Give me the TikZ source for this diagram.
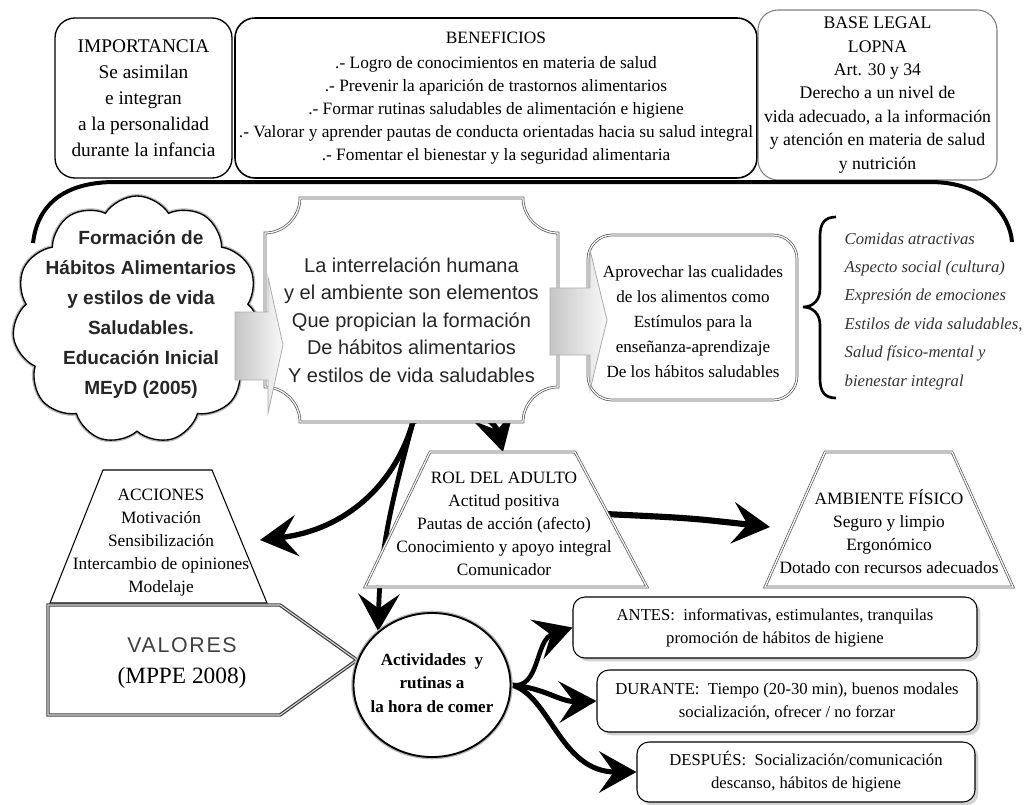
\documentclass[tikz,border=0pt]{standalone}
\usepackage{fontspec}
\setmainfont{Liberation Serif}
\setsansfont{Liberation Sans}
\newfontfamily\valfont[LetterSpace=8]{Liberation Sans}
\usetikzlibrary{shapes.symbols,shapes.geometric,arrows.meta,shadows}
\pgfdeclarelayer{back}
\pgfsetlayers{back,main}
\tikzset{
  topbox/.style={draw, rounded corners=15pt, align=center, inner sep=0pt},
  dblgray/.style={draw=gray!70!black, double=white, double distance=0.9pt, line width=0.55pt},
  blockarrow/.style={draw=gray!65, line width=0.6pt, left color=gray!45, right color=gray!5},
  traptext/.style={align=center, font=\fontsize{13}{17.25}\selectfont, inner sep=0pt},
  bigarrow/.style={line width=4pt, -{Stealth[length=28pt, width=31pt, inset=11pt]}},
  phase/.style={draw, rounded corners=9pt, line width=0.8pt, fill=white,
    drop shadow={shadow xshift=2.5pt, shadow yshift=-2.5pt, fill=gray!70},
    align=center, font=\fontsize{12.5}{17.25}\selectfont, inner sep=0pt}
}
\begin{document}
\begin{tikzpicture}[x=0.75pt,y=-0.75pt]
\useasboundingbox (0,0) rectangle (1028,804);
\begin{pgfonlayer}{back}
\fill[white] (0,0) rectangle (1028,804);
\end{pgfonlayer}

% top boxes
\node[topbox, line width=1pt, minimum width=132.75pt, minimum height=120pt,
  font=\fontsize{14.5}{19.5}\selectfont] (imp) at (143.5,98)
  {IMPORTANCIA\\Se asimilan\\e integran\\a la personalidad\\durante la infancia};
\node[topbox, line width=1.2pt, minimum width=391.5pt, minimum height=120pt,
  font=\fontsize{13}{17.25}\selectfont] (ben) at (496,98)
  {BENEFICIOS\\[2pt]
   .- Logro de conocimientos en materia de salud\\
   .- Prevenir la aparición de trastornos alimentarios\\
   .- Formar rutinas saludables de alimentación e higiene\\
   .- Valorar y aprender pautas de conducta orientadas hacia su salud integral\\
   .- Fomentar el bienestar y la seguridad alimentaria};
\node[topbox, draw=gray, line width=0.8pt, minimum width=179.25pt, minimum height=127.5pt,
  font=\fontsize{13.3}{17.6}\selectfont] (base) at (877.5,95)
  {BASE LEGAL\\LOPNA\\Art. 30 y 34\\Derecho a un nivel de\\vida adecuado, a la información\\y atención en materia de salud\\y nutrición};

% big arc
\draw[line width=3pt] (33,243) .. controls (38,200) and (70,182) .. (115,182) -- (930,182)
  .. controls (985,182) and (1010,215) .. (1012,242);

% cloud
\node[cloud, cloud puffs=11, cloud puff arc=115, cloud ignores aspect, draw, line width=1pt,
  fill=white, minimum width=187pt, minimum height=186pt,
  preaction={draw=gray!55, line width=3pt}] (cloud) at (137,320) {};
\node[font=\sffamily\bfseries\fontsize{14.3}{22.5}\selectfont, align=center, text=black!85]
  (cloudtxt) at (141,314)
  {Formación de\\Hábitos Alimentarios\\y estilos de vida\\Saludables.\\Educación Inicial\\MEyD (2005)};

% center box
\node[minimum width=219.75pt, minimum height=168pt] (cbox) at (411.5,310) {};
\draw[dblgray, fill=white] (300,198) -- (523,198) .. controls (523,217) and (539,233) .. (558,233)
  -- (558,387) .. controls (539,387) and (523,403) .. (523,422) -- (300,422)
  .. controls (300,403) and (284,387) .. (265,387) -- (265,233)
  .. controls (284,233) and (300,217) .. (300,198) -- cycle;
\node[font=\sffamily\fontsize{15}{20.6}\selectfont, align=center, text=black!85]
  (ctext) at (411.5,320)
  {La interrelación humana\\y el ambiente son elementos\\Que propician la formación\\De hábitos alimentarios\\Y estilos de vida saludables};
\draw[blockarrow] (235,312) -- (268,312) -- (268,277) -- (283,345) -- (268,413) -- (268,380) -- (235,380) -- cycle;

% right box
\node[dblgray, rounded corners=18pt, minimum width=156.75pt, minimum height=123.75pt, fill=white]
  (aprov) at (692.5,317.5) {};
\node[font=\fontsize{12.8}{18.75}\selectfont, align=center] (aprovtxt) at (693,322)
  {Aprovechar las cualidades\\de los alimentos como\\Estímulos para la\\enseñanza-aprendizaje\\De los hábitos saludables};
\draw[blockarrow] (550,288) -- (590,288) -- (590,250) -- (607,320) -- (590,390) -- (590,355) -- (550,355) -- cycle;

% brace and list
\draw[line width=2pt] (836,217) .. controls (825,217) and (820,223) .. (820,236) -- (820,289)
  .. controls (820,300) and (813,307) .. (803,307) .. controls (813,307) and (820,314) .. (820,325)
  -- (820,379) .. controls (820,392) and (825,398) .. (836,398);
\node[font=\itshape\fontsize{12.5}{21.3}\selectfont, align=left, anchor=west, text=black!80]
  (list) at (840,311)
  {Comidas atractivas\\Aspecto social (cultura)\\Expresión de emociones\\Estilos de vida saludables,\\Salud físico-mental y\\bienestar integral};

% trapezoids
\draw[fill=white, line width=0.8pt] (103,470) -- (212,470) -- (267,603) -- (50,603) -- cycle;
\node[traptext] (acc) at (161,543) {ACCIONES\\Motivación\\Sensibilización\\Intercambio de opiniones\\Modelaje};
\draw[dblgray, fill=white] (430,452) -- (575,452) -- (647,587) -- (365,587) -- cycle;
\node[traptext] (rol) at (504,524) {ROL DEL ADULTO\\Actitud positiva\\Pautas de acción (afecto)\\Conocimiento y apoyo integral\\Comunicador};
\draw[dblgray, fill=white] (825,452) -- (952,452) -- (1013,587) -- (765,587) -- cycle;
\node[traptext] (amb) at (889,532) {AMBIENTE FÍSICO\\Seguro y limpio\\Ergonómico\\Dotado con recursos adecuados};
\coordinate (accin) at (260,540);
\coordinate (roltop) at (503,452);
\coordinate (rolout) at (605,514);
\coordinate (ambin) at (770,527);

% valores
\draw[draw=gray!50!black, double=gray!30, double distance=0.8pt, line width=0.9pt, fill=white]
  (48,605) -- (280,605) -- (357,660) -- (280,715) -- (48,715) -- cycle;
\node[font=\valfont\fontsize{16}{18}\selectfont, text=black!75] (valt) at (182,645) {VALORES};
\node[font=\fontsize{17.5}{20}\selectfont] (valm) at (182,678) {(MPPE 2008)};

% circle
\node[ellipse, draw, line width=1.4pt, fill=white, preaction={draw=gray!55, line width=3.4pt},
  minimum width=117.75pt, minimum height=108pt, inner sep=0pt] (circ) at (432,685) {};
\node[font=\bfseries\fontsize{12.8}{17.6}\selectfont, align=center] (circtxt) at (432,683)
  {Actividades\ \ y\\rutinas a\\la hora de comer};

% phase boxes
\node[phase, minimum width=303pt, minimum height=45.75pt] (antes) at (775,627.5)
  {ANTES:\ \ informativas, estimulantes, tranquilas\\promoción de hábitos de higiene};
\node[phase, minimum width=285pt, minimum height=46.5pt] (durante) at (787,701)
  {DURANTE:\ \ Tiempo (20-30 min), buenos modales\\socialización, ofrecer / no forzar};
\node[phase, minimum width=253.5pt, minimum height=45pt] (despues) at (806,772)
  {DESPUÉS:\ \ Socialización/comunicación\\descanso, hábitos de higiene};

% arrows
\begin{pgfonlayer}{back}
\draw[bigarrow] ([xshift=1pt]cbox.south) .. controls (395,485) and (345,530) .. (accin);
\draw[bigarrow] ([xshift=1pt]cbox.south) .. controls (440,405) and (492,410) .. (roltop);
\draw[bigarrow, line width=3.6pt] ([xshift=1pt]cbox.south) .. controls (398,480) and (380,540) .. (circ.135);
\draw[bigarrow, line width=4.6pt] (rolout) .. controls (690,518) .. (ambin);
\draw[bigarrow, line width=3.4pt] (circ.east) .. controls (540,690) and (535,640) .. (antes.west);
\draw[bigarrow, line width=3.8pt] (circ.east) .. controls (545,688) and (560,702) .. (durante.west);
\draw[bigarrow, line width=3.8pt] (circ.east) .. controls (550,695) and (560,772) .. (despues.west);
\end{pgfonlayer}
\end{tikzpicture}
\end{document}
